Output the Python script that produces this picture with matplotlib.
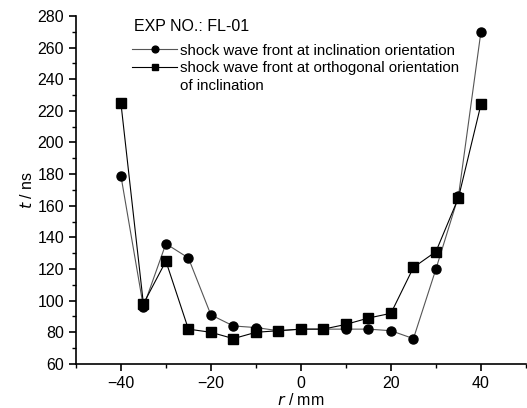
import matplotlib.pyplot as plt
from matplotlib.lines import Line2D
from matplotlib.ticker import MultipleLocator

plt.rcParams['font.family'] = ['Liberation Sans', 'DejaVu Sans']

# data
r = [-40, -35, -30, -25, -20, -15, -10, -5, 0, 5, 10, 15, 20, 25, 30, 35, 40]
t_incl = [179, 96, 136, 127, 91, 84, 83, 81, 82, 82, 82, 82, 81, 76, 120, 166, 270]
t_orth = [225, 98, 125, 82, 80, 76, 80, 81, 82, 82, 85, 89, 92, 121, 131, 165, 224]
labels = ['shock wave front at inclination orientation',
          'shock wave front at orthogonal orientation',
          'of inclination']

fig = plt.figure(figsize=(5.27, 4.08), dpi=100)
ax = fig.add_axes([0.144, 0.108, 0.854, 0.853])

l1, = ax.plot(r, t_incl, color='#555555', linewidth=0.8, marker='o', markersize=6.5,
              mfc='black', mec='black')
l2, = ax.plot(r, t_orth, color='black', linewidth=0.8, marker='s', markersize=6.5,
              mfc='black', mec='black')
blank = Line2D([], [], linestyle='none')

ax.set_xlim(-50, 50)
ax.set_ylim(60, 280)
ax.xaxis.set_major_locator(MultipleLocator(20))
ax.xaxis.set_minor_locator(MultipleLocator(10))
ax.yaxis.set_major_locator(MultipleLocator(20))
ax.yaxis.set_minor_locator(MultipleLocator(10))

ax.spines['top'].set_visible(False)
ax.spines['right'].set_visible(False)
ax.spines['left'].set_linewidth(1.2)
ax.spines['bottom'].set_linewidth(1.2)
ax.tick_params(which='major', direction='out', length=5, width=1.2, labelsize=11.5)
ax.tick_params(which='minor', direction='out', length=3, width=1.0)

ax.set_xlabel('$r$ / mm', fontsize=11.5, labelpad=1)
ax.set_ylabel('$t$ / ns', fontsize=11.5, labelpad=2)

fig.text(0.254, 0.936, 'EXP NO.: FL-01', fontsize=11.5, va='center', ha='left')
leg = fig.legend([l1, l2, blank], labels, loc='upper left',
                 bbox_to_anchor=(0.2505, 0.893), frameon=False,
                 fontsize=10.8, handlelength=3.0, handletextpad=0.2,
                 labelspacing=0.25, borderpad=0, borderaxespad=0, markerscale=0.75)

fig.savefig('out.png', dpi=100)
